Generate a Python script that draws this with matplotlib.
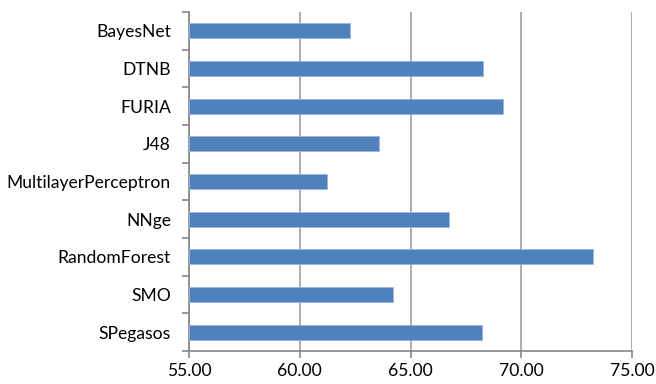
import matplotlib
matplotlib.use("Agg")
import matplotlib.pyplot as plt
import numpy as np

classifiers = ["BayesNet", "DTNB", "FURIA", "J48", "MultilayerPerceptron",
               "NNge", "RandomForest", "SMO", "SPegasos"]
accuracy = [62.25, 68.26, 69.19, 63.57, 61.21, 66.72, 73.24, 64.22, 68.23]

plt.rcParams['font.family'] = ['Lato', 'DejaVu Sans']

fig = plt.figure(figsize=(6.56, 3.84), dpi=100)
ax = fig.add_axes([189 / 656, 1 - 351 / 384, (632 - 189) / 656, (351 - 12) / 384])

y = np.arange(len(classifiers))
ax.barh(y, np.array(accuracy) - 55, left=55, height=0.4,
        color="#4F81BD", edgecolor="#9BB7DC", linewidth=0.6, zorder=3)

ax.set_xlim(55, 75)
ax.set_ylim(len(classifiers) - 0.5, -0.5)
ax.set_xticks([55, 60, 65, 70, 75])
ax.set_xticklabels([f"{v:.2f}" for v in [55, 60, 65, 70, 75]], fontsize=12.6)
ax.set_yticks(y)
ax.set_yticklabels(classifiers, fontsize=12.6)
ax.tick_params(axis="y", length=0, pad=13)
ax.set_yticks(np.arange(-0.5, len(classifiers)), minor=True)
ax.tick_params(axis="y", which="minor", length=5, color="#868686", width=1.2)
ax.tick_params(axis="x", length=5, color="#868686", width=1.2, pad=4)

ax.grid(axis="x", color="#A0A0A0", linewidth=1.2, zorder=0)
for s in ["top", "right"]:
    ax.spines[s].set_visible(False)
for s in ["left", "bottom"]:
    ax.spines[s].set_color("#868686")
    ax.spines[s].set_linewidth(1.2)

fig.savefig("out.png", dpi=100)
